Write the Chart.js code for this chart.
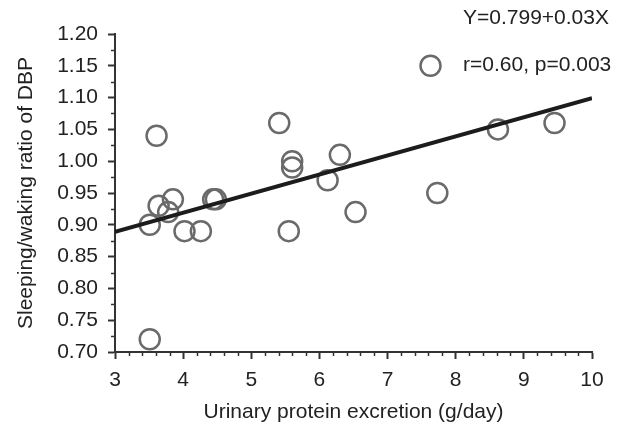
<!DOCTYPE html>
<html>
<head>
<meta charset="utf-8">
<script src="https://cdn.jsdelivr.net/npm/chart.js@4"></script>
<style>
  body { margin: 0; background: #fff; }
  #wrap { width: 628px; height: 427px; }
</style>
</head>
<body>
<div id="wrap"><canvas id="dbp"></canvas></div>
<script>
// urinary protein excretion (g/day) and sleeping/waking ratio of DBP
const proteinX = [3.51, 3.51, 3.61, 3.64, 3.78, 3.85, 4.02, 4.26, 4.44, 4.48, 5.41, 5.55, 5.60, 5.60, 6.12, 6.30, 6.53, 7.63, 7.73, 8.62, 9.45]
const ratioY   = [0.72, 0.90, 1.04, 0.93, 0.92, 0.94, 0.89, 0.89, 0.94, 0.94, 1.06, 0.89, 1.00, 0.99, 0.97, 1.01, 0.92, 1.15, 0.95, 1.05, 1.06]

// regression printed on the figure
const intercept = 0.799
const slope = 0.03
const fitRange = [3, 10]

const yTicks = [0.70, 0.75, 0.80, 0.85, 0.90, 0.95, 1.00, 1.05, 1.10, 1.15, 1.20]
const xTicks = [3, 4, 5, 6, 7, 8, 9, 10]
const notes = ["Y=0.799+0.03X", "r=0.60, p=0.003"]

const font = "'Liberation Sans', Arial, sans-serif"
const ink = "#333"

const points = proteinX.map((x, i) => ({ x: x, y: ratioY[i] }))
const fitLine = fitRange.map(x => ({ x: x, y: intercept + slope * x }))

// minor ticks + the two text notes
const extras = {
  id: "extras",
  afterDraw(chart) {
    const ctx = chart.ctx
    const xs = chart.scales.x
    const ys = chart.scales.y
    ctx.save()
    ctx.strokeStyle = ink
    ctx.lineWidth = 1.5
    for (let i = 0; i < yTicks.length - 1; i++) {
      const py = Math.round(ys.getPixelForValue((yTicks[i] + yTicks[i + 1]) / 2)) + 0.5
      ctx.beginPath()
      ctx.moveTo(xs.left - 4, py)
      ctx.lineTo(xs.left, py)
      ctx.stroke()
    }
    for (let i = 0; i < xTicks.length - 1; i++) {
      for (let k = 1; k < 5; k++) {
        const px = Math.round(xs.getPixelForValue(xTicks[i] + k * 0.2)) + 0.5
        ctx.beginPath()
        ctx.moveTo(px, ys.bottom)
        ctx.lineTo(px, ys.bottom + 4)
        ctx.stroke()
      }
    }
    ctx.fillStyle = "#222"
    ctx.font = "21px " + font
    ctx.textAlign = "left"
    ctx.textBaseline = "middle"
    ctx.fillText(notes[0], 463, 18)
    ctx.fillText(notes[1], 463, 65)
    ctx.restore()
  }
}

new Chart(document.getElementById("dbp"), {
  type: "scatter",
  data: {
    datasets: [{
      type: "line",
      data: fitLine,
      borderColor: "#1c1c1c",
      borderWidth: 4,
      pointRadius: 0,
      fill: false,
      order: 0
    }, {
      data: points,
      showLine: false,
      pointStyle: "circle",
      pointRadius: 10,
      backgroundColor: "rgba(0,0,0,0)",
      borderColor: "#6a6a6a",
      borderWidth: 2.5,
      order: 1
    }]
  },
  plugins: [extras],
  options: {
    responsive: true,
    maintainAspectRatio: false,
    animation: false,
    layout: { padding: { top: 34, right: 36, left: 0, bottom: 0 } },
    plugins: {
      legend: { display: false },
      tooltip: { enabled: false }
    },
    scales: {
      x: {
        type: "linear",
        min: xTicks[0],
        max: xTicks[xTicks.length - 1],
        afterFit: s => { s.height = 75 },
        afterBuildTicks: s => { s.ticks = xTicks.map(v => ({ value: v })) },
        ticks: { color: "#222", font: { family: font, size: 21 }, padding: 9 },
        grid: { drawOnChartArea: false, drawTicks: true, tickLength: 7, tickWidth: 2, tickColor: ink },
        border: { display: true, color: ink, width: 2 },
        title: {
          display: true,
          text: "Urinary protein excretion (g/day)",
          color: "#222",
          font: { family: font, size: 21 },
          padding: { top: 0, bottom: 2 }
        }
      },
      y: {
        type: "linear",
        min: yTicks[0],
        max: yTicks[yTicks.length - 1],
        afterFit: s => { s.width = 115 },
        afterBuildTicks: s => { s.ticks = yTicks.map(v => ({ value: v })) },
        ticks: { color: "#222", font: { family: font, size: 21 }, padding: 10, callback: v => v.toFixed(2) },
        grid: { drawOnChartArea: false, drawTicks: true, tickLength: 7, tickWidth: 2, tickColor: ink },
        border: { display: true, color: ink, width: 2 },
        title: {
          display: true,
          text: "Sleeping/waking ratio of DBP",
          color: "#222",
          font: { family: font, size: 21 },
          padding: { top: 14, bottom: 0 }
        }
      }
    }
  }
})
</script>
</body>
</html>
